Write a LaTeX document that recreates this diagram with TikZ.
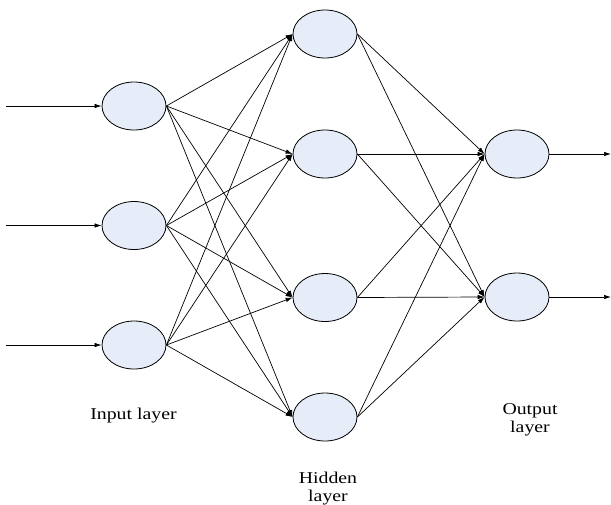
\documentclass[tikz,border=0pt]{standalone}
\usepackage{fontspec}
\setmainfont{Liberation Serif}
\usetikzlibrary{shapes.geometric,arrows.meta}
\tikzset{
  neuron/.style={ellipse,draw=black,line width=0.8pt,fill={rgb,255:red,230;green,237;blue,248},minimum width=64pt,minimum height=48pt,inner sep=0pt},
  conn/.style={line width=0.7pt,-{Latex[length=7pt,width=4.5pt]}},
  lbl/.style={align=center,font=\fontsize{16.5}{18}\selectfont}
}
\newcommand{\wide}[1]{\scalebox{1.2}[1]{#1}}
\begin{document}
\begin{tikzpicture}[x=1pt,y=-1pt]
\useasboundingbox (0,0) rectangle (611,504);
% input
\node[neuron] (i1) at (134,106) {};
\node[neuron] (i2) at (134,225.5) {};
\node[neuron] (i3) at (134,345) {};
% hidden
\node[neuron] (h1) at (325,34) {};
\node[neuron] (h2) at (325,154) {};
\node[neuron] (h3) at (325,297.5) {};
\node[neuron] (h4) at (325,417) {};
% output
\node[neuron] (o1) at (517,154) {};
\node[neuron] (o2) at (517,297) {};
% free ends
\coordinate (a1) at (6,106);
\coordinate (a2) at (6,225.5);
\coordinate (a3) at (6,345);
\coordinate (b1) at (611,154);
\coordinate (b2) at (611,297);
\foreach \k in {1,2,3}{\draw[conn] (a\k) -- (i\k.west);}
\foreach \i in {1,2,3}{\foreach \h in {1,2,3,4}{\draw[conn] (i\i.east) -- (h\h.west);}}
\foreach \h in {1,2,3,4}{\foreach \o in {1,2}{\draw[conn] (h\h.east) -- (o\o.west);}}
\foreach \o in {1,2}{\draw[conn] (o\o.east) -- (b\o);}
% labels
\node[lbl] (li) at (133.5,416) {\wide{Input layer}};
\node[lbl] (lo) at (530,419.5) {\wide{Output}\\\wide{layer}};
\node[lbl] (lh) at (328,488.5) {\wide{Hidden}\\\wide{layer}};
\end{tikzpicture}
\end{document}
